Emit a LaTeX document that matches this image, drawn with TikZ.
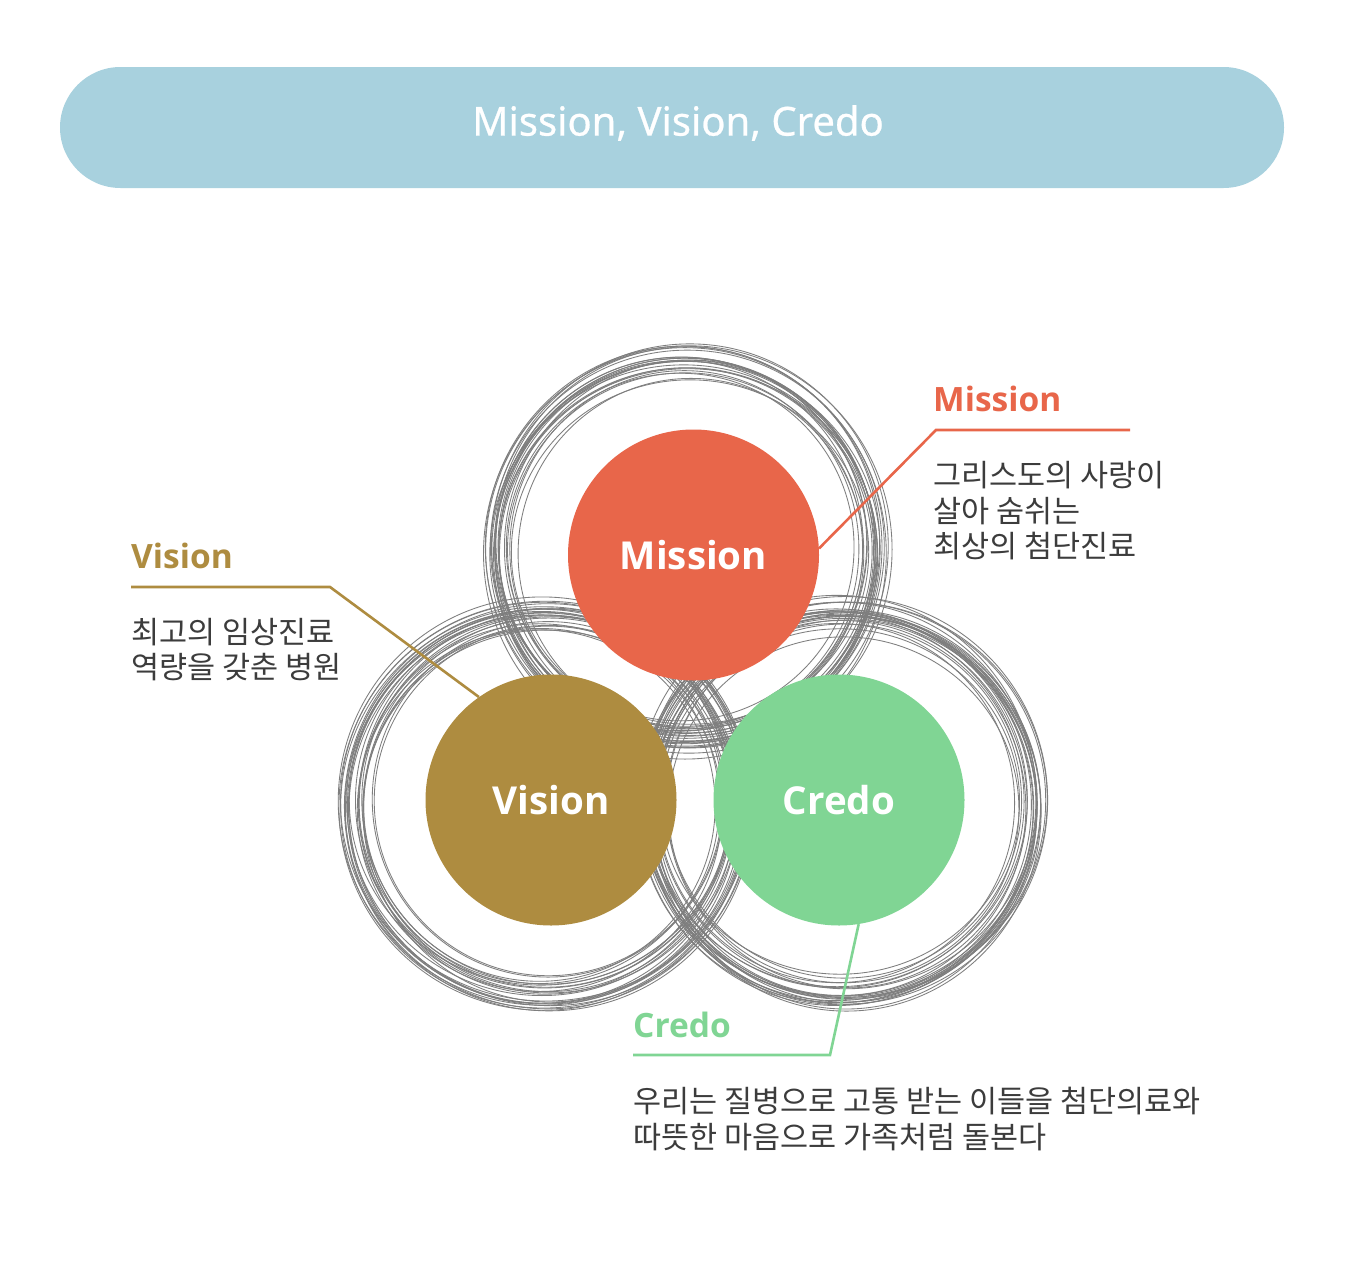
\documentclass[tikz,border=0pt]{standalone}
\usepackage{fontspec}
\setmainfont{Open Sans}
\newfontfamily\titlefont[FakeBold=0.6]{Noto Sans}
\newfontfamily\kr{Noto Sans CJK KR}
\definecolor{titlebg}{HTML}{A8D1DE}
\definecolor{mis}{HTML}{E8664A}
\definecolor{vis}{HTML}{AE8C40}
\definecolor{cre}{HTML}{80D594}
\definecolor{txt}{HTML}{3C3C3C}
\definecolor{ringc}{HTML}{7E7E7E}
\begin{document}
\begin{tikzpicture}[x=1pt,y=-1pt,
  ring/.style={draw=ringc,line width=0.85pt},
  bigc/.style={circle,minimum size=251pt,inner sep=0pt,text=white,font=\bfseries\fontsize{38.5}{42}\selectfont},
  lab/.style={anchor=west,inner sep=0pt,font=\bfseries\fontsize{33.5}{36}\selectfont},
  desc/.style={anchor=west,inner sep=0pt,text=txt,font=\kr\fontsize{30.5}{33}\selectfont},
  conn/.style={line width=2.6pt}]
\useasboundingbox (0,0) rectangle (1350,1266);
\fill[white] (0,0) rectangle (1350,1266);
% title
\node[fill=titlebg,rounded corners=60.5pt,minimum width=1224pt,minimum height=121pt,inner sep=0pt] (titlebar) at (672,127.5) {};
\node[text=white,inner sep=0pt,font=\titlefont\fontsize{40}{42}\selectfont] (title) at (678,123) {\textbf{}Mission, Vision, Credo};
% rings
\pgfmathsetseed{7}
\foreach \cx/\cy in {685/549, 545/805, 841/805}{
  \foreach \k in {1,...,24}{
    \pgfmathsetmacro\ox{\cx+6*rand}
    \pgfmathsetmacro\oy{\cy+6*rand}
    \pgfmathsetmacro\rr{188+15*rand}
    \pgfmathsetmacro\rx{\rr+4*rand}
    \pgfmathsetmacro\ry{\rr+4*rand}
    \draw[ring] (\ox,\oy) ellipse [x radius=\rx, y radius=\ry];
  }
}
% main circles
\node[bigc,fill=mis] (mission) at (693.5,555) {Mission};
\node[bigc,fill=vis] (vision) at (551,800) {Vision};
\node[bigc,fill=cre] (credo) at (839,800) {Credo};
% mission label
\coordinate (mbend) at (936,430);
\coordinate (mend) at (1130,430);
\draw[conn,mis] (mission.3) -- (mbend) -- (mend);
\node[lab,text=mis] (mlab) at (933,399) {Mission};
\node[desc] (md1) at (933,475) {그리스도의 사랑이};
\node[desc] (md2) at (933,511) {살아 숨쉬는};
\node[desc] (md3) at (933,546) {최상의 첨단진료};
% vision label
\coordinate (vstart) at (131,587);
\coordinate (vbend) at (330,587);
\draw[conn,vis] (vstart) -- (vbend) -- (vision.125);
\node[lab,text=vis] (vlab) at (131,556) {Vision};
\node[desc] (vd1) at (131,632) {최고의 임상진료};
\node[desc] (vd2) at (131,667) {역량을 갖춘 병원};
% credo label
\coordinate (cstart) at (633,1055);
\coordinate (cbend) at (830,1055);
\draw[conn,cre] (cstart) -- (cbend) -- (credo.-81);
\node[lab,text=cre] (clab) at (633,1025) {Credo};
\node[desc] (cd1) at (633,1101) {우리는 질병으로 고통 받는 이들을 첨단의료와};
\node[desc] (cd2) at (633,1137) {따뜻한 마음으로 가족처럼 돌본다};
\end{tikzpicture}
\end{document}
